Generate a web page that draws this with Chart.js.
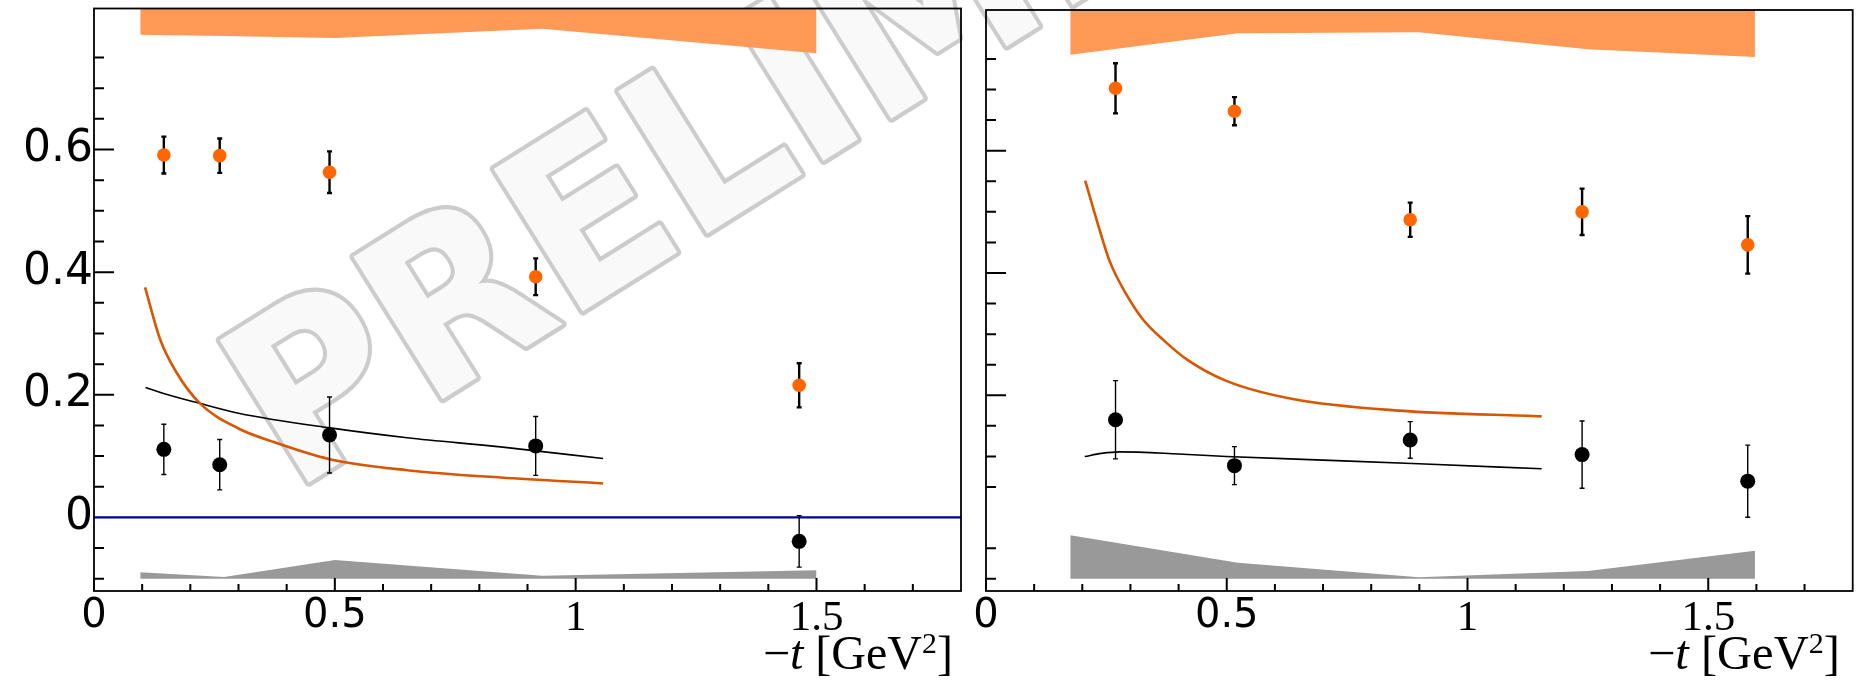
<!DOCTYPE html>
<html>
<head>
<meta charset="utf-8">
<title>-t dependence, two panels</title>
<script src="https://cdn.jsdelivr.net/npm/chart.js@4.4.1/dist/chart.umd.min.js"></script>
<style>
  html, body { margin: 0; padding: 0; background: #fff; }
  #wrap { position: relative; width: 1864px; height: 682px; overflow: hidden; }
  canvas { position: absolute; top: 0; }
  #mark { left: 0; z-index: 0; }
  #left { left: 0; z-index: 1; }
  #right { left: 966px; z-index: 2; }
  .xtitle {
    position: absolute; z-index: 3; top: 629px;
    font-family: "Liberation Serif", "DejaVu Serif", serif;
    font-size: 48px; line-height: 48px; white-space: nowrap; color: #000;
    transform-origin: 100% 50%;
  }
  .xtitle .sup { font-size: 0.62em; position: relative; top: -0.55em; }
</style>
</head>
<body>
<div id="wrap">
  <canvas id="mark" width="1864" height="682"></canvas>
  <canvas id="left" width="970" height="682"></canvas>
  <canvas id="right" width="898" height="682"></canvas>
  <div class="xtitle" data-w="190" style="right: 911px;">&minus;<i>t</i> [GeV<span class="sup">2</span>]</div>
  <div class="xtitle" data-w="192" style="right: 24px;">&minus;<i>t</i> [GeV<span class="sup">2</span>]</div>
</div>
<script>
// axis ticks
const xTickVals = [0, 0.5, 1, 1.5];
const xTickLabels = ['0', '0.5', '1', '1.5'];
const xMinor = [0.1, 0.2, 0.3, 0.4, 0.6, 0.7, 0.8, 0.9, 1.1, 1.2, 1.3, 1.4, 1.6, 1.7];
const yTickVals = [0, 0.2, 0.4, 0.6];
const yTickLabels = ['0', '0.2', '0.4', '0.6'];
const yMajorMarks = [0.2, 0.4, 0.6];
const yMinor = [-0.1, -0.05, 0.05, 0.1, 0.15, 0.25, 0.3, 0.35, 0.45, 0.5, 0.55, 0.65, 0.7, 0.75];

const watermarkText = 'PRELIMINARY';

// left panel: measured points
const tLeft = [0.145, 0.261, 0.489, 0.917, 1.464];
const orangeLeft = [0.591, 0.590, 0.563, 0.3925, 0.2155];
const orangeLeftErr = [0.030, 0.028, 0.034, 0.030, 0.036];
const blackLeft = [0.111, 0.086, 0.1345, 0.1166, -0.039];
const blackLeftErr = [0.041, 0.041, 0.062, 0.048, 0.042];

// left panel: model curves
const tCurveOrangeLeft = [0.106, 0.137, 0.17, 0.22, 0.3, 0.369, 0.489, 0.65, 0.844, 1.057];
const curveOrangeLeft = [0.375, 0.291, 0.238, 0.186, 0.145, 0.124, 0.095, 0.077, 0.065, 0.0554];
const tCurveBlackLeft = [0.107, 0.15, 0.215, 0.3, 0.49, 0.65, 0.844, 1.057];
const curveBlackLeft = [0.212, 0.201, 0.187, 0.170, 0.146, 0.130, 0.115, 0.096];

// left panel: systematic bands
const tBandLeft = [0.096, 0.27, 0.5, 0.93, 1.5];
const orangeBandLeft = [0.787, 0.785, 0.782, 0.797, 0.757];
const grayBandLeft = [-0.0896, -0.097, -0.0696, -0.095, -0.086];
const zeroLineT = [0, 1.8];
const zeroLine = [0, 0];

// right panel: measured points
const tRight = [0.269, 0.516, 0.881, 1.238, 1.582];
const orangeRight = [0.702, 0.6645, 0.487, 0.500, 0.446];
const orangeRightErr = [0.041, 0.023, 0.028, 0.038, 0.047];
const blackRight = [0.160, 0.085, 0.127, 0.103, 0.0596];
const blackRightErr = [0.064, 0.031, 0.030, 0.055, 0.059];

// right panel: model curves
const tCurveOrangeRight = [0.206, 0.235, 0.257, 0.2915, 0.326, 0.367, 0.42, 0.499, 0.637, 0.858, 1.154];
const curveOrangeRight = [0.551, 0.473, 0.419, 0.365, 0.324, 0.2915, 0.257, 0.2236, 0.194, 0.175, 0.1655];
const tCurveBlackRight = [0.205, 0.24, 0.278, 0.4, 0.499, 0.7, 0.899, 1.154];
const curveBlackRight = [0.0998, 0.105, 0.1075, 0.104, 0.100, 0.094, 0.088, 0.0798];

// right panel: systematic bands
const tBandRight = [0.175, 0.523, 0.899, 1.25, 1.597];
const orangeBandRight = [0.757, 0.792, 0.7936, 0.766, 0.753];
const grayBandRight = [-0.0288, -0.074, -0.0977, -0.0875, -0.054];

const ORANGE_PT = '#ff6600';
const ORANGE_LINE = '#d95500';
const ORANGE_BAND = '#ff9955';
const GRAY_BAND = '#999999';

function pts(xs, ys) {
    return xs.map((x, i) => ({ x: x, y: ys[i] }));
}

// watermark behind both panels: outlined, rounded letters
const wctx = document.getElementById('mark').getContext('2d');
wctx.translate(292, 493);
wctx.rotate(-32 * Math.PI / 180);
wctx.scale(1, 1.07);
wctx.font = 'bold 215px "DejaVu Sans"';
wctx.lineJoin = 'round';
wctx.strokeStyle = '#cccccc';
wctx.lineWidth = 8;
wctx.strokeText(watermarkText, 0, 0);
wctx.fillStyle = '#f9f9f9';
wctx.fillText(watermarkText, 0, 0);

// error bars drawn just before the marker dataset
const errorBars = {
    id: 'errorBars',
    beforeDatasetDraw(chart, args) {
        const ds = chart.data.datasets[args.index];
        if (!ds.errors) return;
        const xs = chart.scales.x, ys = chart.scales.y, ctx = chart.ctx;
        ctx.save();
        ctx.strokeStyle = '#000';
        ctx.lineWidth = ds.errWidth;
        ds.data.forEach((p, i) => {
            const px = xs.getPixelForValue(p.x);
            const top = ys.getPixelForValue(p.y + ds.errors[i]);
            const bot = ys.getPixelForValue(p.y - ds.errors[i]);
            ctx.beginPath();
            ctx.moveTo(px, top); ctx.lineTo(px, bot);
            ctx.moveTo(px - 2.5, top); ctx.lineTo(px + 2.5, top);
            ctx.moveTo(px - 2.5, bot); ctx.lineTo(px + 2.5, bot);
            ctx.stroke();
        });
        ctx.restore();
    }
};

// box frame and inward ticks
const frameTicks = {
    id: 'frameTicks',
    afterDatasetsDraw(chart) {
        const ctx = chart.ctx, a = chart.chartArea;
        const x = chart.scales.x, y = chart.scales.y;
        ctx.save();
        ctx.strokeStyle = '#000';
        ctx.lineWidth = 2;
        ctx.beginPath();
        yMajorMarks.forEach(v => {
            const py = y.getPixelForValue(v);
            ctx.moveTo(a.left, py); ctx.lineTo(a.left + 20, py);
        });
        yMinor.forEach(v => {
            const py = y.getPixelForValue(v);
            ctx.moveTo(a.left, py); ctx.lineTo(a.left + 10, py);
        });
        xTickVals.forEach(v => {
            const px = x.getPixelForValue(v);
            ctx.moveTo(px, a.bottom); ctx.lineTo(px, a.bottom - 13);
        });
        xMinor.forEach(v => {
            const px = x.getPixelForValue(v);
            ctx.moveTo(px, a.bottom); ctx.lineTo(px, a.bottom - 7);
        });
        ctx.stroke();
        ctx.lineWidth = 1.8;
        ctx.strokeRect(a.left, a.top, a.right - a.left, a.bottom - a.top);
        ctx.restore();
    }
};

function panelDatasets(p) {
    const sets = [
        { data: pts(p.t, p.orange), errors: p.orangeErr, errWidth: 2.4, showLine: false,
          pointRadius: 6.8, pointBackgroundColor: ORANGE_PT, pointBorderWidth: 0 },
        { data: pts(p.t, p.black), errors: p.blackErr, errWidth: 1.4, showLine: false,
          pointRadius: 7.5, pointBackgroundColor: '#000', pointBorderWidth: 0 },
        { data: pts(p.coT, p.co), borderColor: ORANGE_LINE, borderWidth: 2.6, pointRadius: 0,
          cubicInterpolationMode: 'monotone' },
        { data: pts(p.cbT, p.cb), borderColor: '#000', borderWidth: 1.6, pointRadius: 0,
          cubicInterpolationMode: 'monotone' }
    ];
    if (p.zero) {
        sets.push({ data: pts(zeroLineT, zeroLine), borderColor: '#0000a0', borderWidth: 2.2, pointRadius: 0 });
    }
    sets.push({ data: pts(p.bandT, p.orangeBand), borderWidth: 0, pointRadius: 0,
                fill: 'end', backgroundColor: ORANGE_BAND });
    sets.push({ data: pts(p.bandT, p.grayBand), borderWidth: 0, pointRadius: 0,
                fill: { value: -0.1 }, backgroundColor: GRAY_BAND });
    return sets;
}

function makeChart(id, datasets, showYLabels, yWidth, padTop, padRight) {
    return new Chart(document.getElementById(id), {
        type: 'line',
        data: { datasets: datasets },
        options: {
            responsive: false,
            animation: false,
            layout: { padding: { top: padTop, right: padRight, left: 0, bottom: 0 } },
            plugins: { legend: { display: false }, tooltip: { enabled: false } },
            scales: {
                x: {
                    type: 'linear', min: 0, max: 1.8,
                    afterBuildTicks: s => { s.ticks = xTickVals.map(v => ({ value: v })); },
                    grid: { display: false, drawTicks: false },
                    border: { display: false },
                    ticks: {
                        color: '#000', padding: 2, maxRotation: 0, autoSkip: false,
                        font: c => (c.tick && c.tick.value >= 1)
                            ? { family: 'Liberation Serif', size: 43, lineHeight: 1.2 }
                            : { family: 'DejaVu Sans', size: 40, lineHeight: 1.2 },
                        callback: (v, i) => xTickLabels[i]
                    },
                    afterFit: s => { s.height = 91; s.paddingLeft = 0; s.paddingRight = 0; }
                },
                y: {
                    min: -0.12, max: 0.83,
                    afterBuildTicks: s => { s.ticks = yTickVals.map(v => ({ value: v })); },
                    grid: { display: false, drawTicks: false },
                    border: { display: false },
                    ticks: {
                        display: showYLabels, color: '#000', padding: 1,
                        font: { family: 'DejaVu Sans', size: 44, lineHeight: 1.2 },
                        callback: (v, i) => yTickLabels[i]
                    },
                    afterFit: s => { s.width = yWidth; s.paddingTop = 0; s.paddingBottom = 0; }
                }
            }
        },
        plugins: [errorBars, frameTicks]
    });
}

makeChart('left', panelDatasets({
    t: tLeft, orange: orangeLeft, orangeErr: orangeLeftErr, black: blackLeft, blackErr: blackLeftErr,
    coT: tCurveOrangeLeft, co: curveOrangeLeft, cbT: tCurveBlackLeft, cb: curveBlackLeft,
    bandT: tBandLeft, orangeBand: orangeBandLeft, grayBand: grayBandLeft, zero: true
}), true, 94, 8.5, 9);

makeChart('right', panelDatasets({
    t: tRight, orange: orangeRight, orangeErr: orangeRightErr, black: blackRight, blackErr: blackRightErr,
    coT: tCurveOrangeRight, co: curveOrangeRight, cbT: tCurveBlackRight, cb: curveBlackRight,
    bandT: tBandRight, orangeBand: orangeBandRight, grayBand: grayBandRight, zero: false
}), false, 20, 10, 11.3);

// stretch the axis titles to the width they have in the figure
document.querySelectorAll('.xtitle').forEach(el => {
    const w = el.getBoundingClientRect().width;
    el.style.transform = 'scaleX(' + (Number(el.dataset.w) / w) + ')';
});
</script>
</body>
</html>
